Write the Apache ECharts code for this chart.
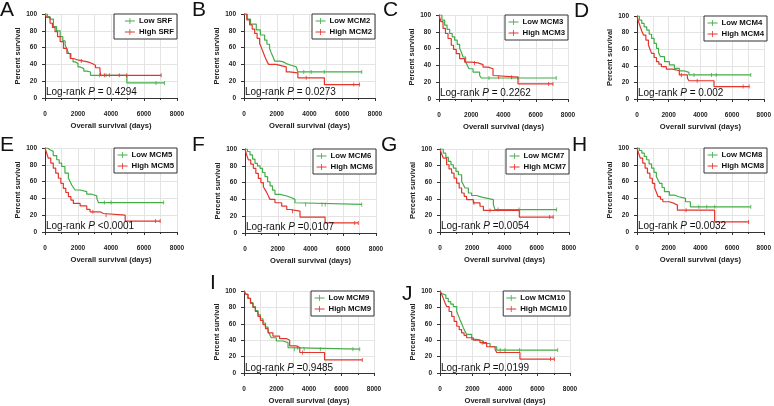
<!DOCTYPE html>
<html>
<head>
<meta charset="utf-8">
<script src="https://cdn.jsdelivr.net/npm/echarts@6/dist/echarts.min.js"></script>
<style>html,body{margin:0;padding:0;background:#fff;}#c{width:774px;height:406px;}</style>
</head>
<body>
<div id="c"></div>
<script>
// ---------- DATA ----------
const panelLetters = ['A','B','C','D','E','F','G','H','I','J'];
const geneNames = ['SRF','MCM2','MCM3','MCM4','MCM5','MCM6','MCM7','MCM8','MCM9','MCM10'];
const pValues = ['= 0.4294','= 0.0273','= 0.2262','= 0.002','<0.0001','=0.0107','=0.0054','=0.0032','=0.9485','=0.0199'];
const xTicks = [0, 2000, 4000, 6000, 8000];
const yTicks = [0, 20, 40, 60, 80, 100];

const lowSRF = [[0,100],[150,97],[300,94],[510,85],[700,80],[920,73],[1080,68],[1220,63],[1330,58],[1430,53],[1570,47],[1700,43],[1840,41],[2000,37],[2140,35],[2350,32],[2550,31],[2760,27],[4960,18],[7245,18]];
const highSRF = [[0,100],[100,96],[306,89],[450,84],[610,79],[760,73],[920,67],[1120,59],[1330,53],[1530,47],[1730,45],[2040,44],[2350,43],[2590,41],[2860,39],[3060,36],[3330,33],[3370,27],[7040,27]];
const lowSRFcens = [[3300,27],[3700,27],[6730,18],[7245,18]];
const highSRFcens = [[2200,44],[3600,27],[3900,27],[4500,27],[4950,27],[7040,27]];

const lowMCM2 = [[0,100],[200,94],[400,88],[750,81],[1000,75],[1260,69],[1400,64],[1560,59],[1660,54],[1770,49],[1870,44],[2170,43],[2400,41],[2580,39],[2880,37],[3190,35],[3290,31],[7190,31]];
const highMCM2 = [[0,100],[170,93],[345,87],[500,82],[650,77],[800,71],[955,65],[1060,60],[1160,55],[1240,51],[1320,47],[1420,43],[1500,40],[1950,38],[2380,37],[2580,31],[2780,30],[3290,24],[4910,16],[7050,16]];
const lowMCM2cens = [[3650,31],[4100,31],[4900,31],[7190,31]];
const highMCM2cens = [[3800,24],[6700,16],[7050,16]];

const lowMCM3 = [[0,100],[180,94],[350,88],[500,83],[660,78],[820,74],[970,70],[1130,65],[1280,60],[1400,55],[1490,50],[1650,44],[1760,40],[1860,36],[2110,32],[2520,28],[2620,25],[7270,25]];
const highMCM3 = [[0,100],[120,92],[250,84],[400,78],[560,72],[760,64],[900,59],[1070,54],[1280,48],[1590,44],[2000,43],[2420,41],[2730,38],[3040,36],[3350,28],[3400,26],[4900,18],[7070,18]];
const lowMCM3cens = [[3100,25],[4900,25],[7270,25]];
const highMCM3cens = [[2200,43],[3700,26],[4500,26],[6800,18],[7070,18]];

const lowMCM4 = [[0,100],[150,95],[300,91],[450,87],[615,83],[770,78],[920,73],[1080,67],[1230,61],[1360,56],[1480,51],[1740,45],[2050,41],[2360,37],[2670,34],[2970,32],[3280,29],[7180,29]];
const highMCM4 = [[0,100],[100,93],[205,87],[300,82],[410,77],[560,71],[720,65],[820,60],[920,55],[1080,50],[1230,45],[1380,42],[1540,39],[1850,36],[2260,34],[2670,29],[3180,25],[3280,22],[4860,15],[7080,15]];
const lowMCM4cens = [[3600,29],[4700,29],[5000,29],[7180,29]];
const highMCM4cens = [[2800,29],[3800,22],[6700,15],[7080,15]];

const lowMCM5 = [[0,100],[150,98],[300,96],[500,91],[710,86],[860,82],[1010,78],[1210,70],[1420,64],[1520,60],[1620,56],[1720,53],[1820,50],[2130,48],[2530,45],[2830,43],[3140,40],[3240,35],[7190,35]];
const highMCM5 = [[0,100],[100,94],[200,88],[350,82],[500,76],[650,70],[810,64],[960,58],[1110,52],[1260,47],[1420,42],[1570,38],[1720,34],[2130,31],[2530,27],[2730,24],[3340,22],[3540,20],[4860,13],[6980,13]];
const lowMCM5cens = [[3600,35],[4000,35],[7190,35]];
const highMCM5cens = [[2900,24],[3700,20],[6700,13],[6980,13]];

const lowMCM6 = [[0,100],[150,97],[305,93],[460,88],[610,83],[760,80],[920,77],[1070,72],[1220,67],[1380,61],[1530,56],[1680,51],[1830,46],[2140,44],[2550,42],[2850,40],[3050,36],[3160,34],[7130,34]];
const highMCM6 = [[0,100],[100,93],[205,87],[350,82],[510,77],[660,71],[815,65],[970,60],[1120,55],[1240,51],[1360,47],[1450,43],[1530,40],[1830,36],[2240,32],[2550,28],[2750,26],[3360,19],[4890,12],[6920,12]];
const lowMCM6cens = [[3700,34],[4700,34],[4900,34],[7130,34]];
const highMCM6cens = [[2900,26],[6700,12],[6920,12]];

const lowMCM7 = [[0,100],[205,95],[360,90],[520,85],[680,81],[830,77],[990,73],[1140,69],[1340,61],[1450,57],[1550,53],[1760,47],[1960,44],[2270,42],[2580,40],[3100,39],[3310,33],[3410,27],[7230,27]];
const highMCM7 = [[0,100],[100,94],[205,89],[410,81],[560,76],[720,71],[870,65],[1030,59],[1190,53],[1340,47],[1500,43],[1650,39],[2070,35],[2480,31],[2690,26],[4920,18],[7020,18]];
const lowMCM7cens = [[3600,27],[4900,27],[7230,27]];
const highMCM7cens = [[2100,35],[3100,26],[6800,18],[7020,18]];

const lowMCM8 = [[0,100],[150,97],[305,94],[460,90],[610,86],[760,81],[920,76],[1070,71],[1220,66],[1330,62],[1430,58],[1580,53],[1730,48],[2040,44],[2350,42],[2650,40],[3060,36],[3370,30],[7180,30]];
const highMCM8 = [[0,100],[100,94],[205,88],[360,82],[510,76],[660,70],[815,64],[970,58],[1120,52],[1230,47],[1330,42],[1480,39],[1630,36],[2040,34],[2350,32],[2550,26],[4900,12],[7040,12]];
const lowMCM8cens = [[3900,30],[4400,30],[4900,30],[7180,30]];
const highMCM8cens = [[3100,26],[7040,12]];

const lowMCM9 = [[0,100],[120,96],[245,91],[400,86],[550,81],[700,76],[860,71],[1010,66],[1170,61],[1320,56],[1480,51],[1580,47],[1680,43],[1990,39],[2400,37],[2710,31],[2810,29],[7120,29]];
const highMCM9 = [[0,100],[120,96],[245,91],[400,85],[550,80],[700,75],[860,69],[1010,64],[1170,59],[1320,54],[1480,49],[1780,45],[2190,42],[2610,40],[2810,33],[3220,31],[3430,25],[4960,16],[7280,16]];
const lowMCM9cens = [[3100,29],[3700,29],[4700,29],[6700,29],[7120,29]];
const highMCM9cens = [[3300,31],[3600,25],[7280,16]];

const lowMCM10 = [[0,100],[100,97],[205,95],[360,91],[510,87],[660,84],[820,81],[1030,75],[1130,70],[1230,65],[1340,60],[1440,55],[1540,51],[1640,47],[1950,41],[2260,39],[2670,36],[3080,32],[3490,28],[7240,28]];
const highMCM10 = [[0,100],[100,96],[205,91],[300,86],[410,81],[560,75],[720,69],[870,63],[1030,57],[1180,53],[1330,49],[1480,46],[1640,43],[2050,40],[2460,37],[2870,32],[3390,29],[3490,25],[4920,17],[7040,17]];
const lowMCM10cens = [[3700,28],[4000,28],[4900,28],[7240,28]];
const highMCM10cens = [[2600,37],[6800,17],[7040,17]];

const lowCurves = [lowSRF, lowMCM2, lowMCM3, lowMCM4, lowMCM5, lowMCM6, lowMCM7, lowMCM8, lowMCM9, lowMCM10];
const highCurves = [highSRF, highMCM2, highMCM3, highMCM4, highMCM5, highMCM6, highMCM7, highMCM8, highMCM9, highMCM10];
const lowCens = [lowSRFcens, lowMCM2cens, lowMCM3cens, lowMCM4cens, lowMCM5cens, lowMCM6cens, lowMCM7cens, lowMCM8cens, lowMCM9cens, lowMCM10cens];
const highCens = [highSRFcens, highMCM2cens, highMCM3cens, highMCM4cens, highMCM5cens, highMCM6cens, highMCM7cens, highMCM8cens, highMCM9cens, highMCM10cens];

// ---------- LAYOUT ----------
const layout = [
  {l:45, t:14, w:132, h:84, lx:0, ly:0},
  {l:244, t:14, w:131, h:84, lx:192, ly:0},
  {l:439, t:15, w:129, h:84, lx:383, ly:0},
  {l:637, t:16, w:130, h:83, lx:574, ly:1},
  {l:45, t:148, w:132, h:84, lx:0, ly:135},
  {l:245, t:149, w:131, h:84, lx:192, ly:135},
  {l:440, t:149, w:129, h:83, lx:381, ly:135},
  {l:637, t:148, w:130, h:84, lx:572, ly:135},
  {l:244, t:291, w:130, h:83, lx:210, ly:273},
  {l:440, t:291, w:130, h:83, lx:402, ly:284}
];
const FONT = 'Liberation Sans, Arial, sans-serif';
const GREEN = '#43ad48';
const RED = '#e3352c';
const legendBoxW = 63;

const ctx = document.createElement('canvas').getContext('2d');
ctx.font = 'bold 7.8px ' + FONT;

const grids = [], xAxes = [], yAxes = [], series = [], legends = [], graphics = [];
layout.forEach((p, i) => {
  grids.push({left: p.l, top: p.t, width: p.w, height: p.h});
  xAxes.push({
    type: 'value', gridIndex: i, min: xTicks[0], max: xTicks[xTicks.length-1], interval: 2000,
    offset: 8,
    name: 'Overall survival (days)', nameLocation: 'middle', nameGap: 16,
    nameTextStyle: {fontFamily: FONT, fontSize: 7.6, fontWeight: 'bold', color: '#222'},
    axisLine: {show: true, lineStyle: {color: '#333', width: 1}},
    axisTick: {show: true, length: 3, lineStyle: {color: '#333'}},
    minorTick: {show: true, splitNumber: 2, length: 2, lineStyle: {color: '#333'}},
    axisLabel: {fontFamily: FONT, fontSize: 6.5, fontWeight: 'bold', color: '#222', margin: 5,
      formatter: v => String(v)},
    splitLine: {show: true, lineStyle: {color: '#e4e4e4', width: 1}},
    minorSplitLine: {show: true, lineStyle: {color: '#e4e4e4', width: 1}}
  });
  yAxes.push({
    type: 'value', gridIndex: i, min: yTicks[0], max: yTicks[yTicks.length-1], interval: 20,
    offset: 3,
    name: 'Percent survival', nameLocation: 'middle', nameGap: 21, nameRotate: 90,
    nameTextStyle: {fontFamily: FONT, fontSize: 7.4, fontWeight: 'bold', color: '#222'},
    axisLine: {show: true, lineStyle: {color: '#333', width: 1}},
    axisTick: {show: true, length: 3, lineStyle: {color: '#333'}},
    axisLabel: {fontFamily: FONT, fontSize: 6.5, fontWeight: 'bold', color: '#222', margin: 5},
    splitLine: {show: true, lineStyle: {color: '#e4e4e4', width: 1}}
  });
  const lowName = 'Low ' + geneNames[i], highName = 'High ' + geneNames[i];
  series.push({
    name: lowName, type: 'line', step: 'end', xAxisIndex: i, yAxisIndex: i,
    data: lowCurves[i], showSymbol: false, color: GREEN,
    lineStyle: {width: 1.2, color: GREEN}, z: 3
  });
  series.push({
    name: highName, type: 'line', step: 'end', xAxisIndex: i, yAxisIndex: i,
    data: highCurves[i], showSymbol: false, color: RED,
    lineStyle: {width: 1.2, color: RED}, z: 4
  });
  series.push({
    name: 'cL' + i, type: 'scatter', xAxisIndex: i, yAxisIndex: i, data: lowCens[i],
    symbol: 'rect', symbolSize: [1, 4], itemStyle: {color: GREEN}, z: 3
  });
  series.push({
    name: 'cH' + i, type: 'scatter', xAxisIndex: i, yAxisIndex: i, data: highCens[i],
    symbol: 'rect', symbolSize: [1, 4], itemStyle: {color: RED}, z: 4
  });
  const tw = Math.max(ctx.measureText(lowName).width, ctx.measureText(highName).width);
  const padL = Math.max(3, legendBoxW - 3 - tw - 10 - 4);
  legends.push({
    data: [lowName, highName], orient: 'vertical',
    right: 774 - (p.l + p.w), top: p.t,
    backgroundColor: '#fff', borderColor: '#333', borderWidth: 1,
    padding: [3, 3, 3, padL], itemGap: 3, itemWidth: 10, itemHeight: 6,
    icon: 'path://M0,2.5H10V3.5H0Z M4.6,0H5.4V6H4.6Z',
    selectedMode: false,
    textStyle: {fontFamily: FONT, fontSize: 7.8, fontWeight: 'bold', color: '#111', padding: [0, 0, 0, -1]}
  });
  graphics.push({
    type: 'text', left: p.lx, top: p.ly, z: 100,
    style: {text: panelLetters[i], font: '21px ' + FONT, fill: '#111'}
  });
  graphics.push({
    type: 'text', left: p.l + 1, top: p.t + p.h - 11, z: 100,
    style: {
      text: '{n|Log-rank }{i|P}{n| ' + pValues[i] + '}',
      rich: {
        n: {fontFamily: FONT, fontSize: 10, fill: '#111'},
        i: {fontFamily: FONT, fontSize: 10, fontStyle: 'italic', fill: '#111'}
      }
    }
  });
});

const chart = echarts.init(document.getElementById('c'), null, {renderer: 'canvas'});
chart.setOption({
  animation: false,
  backgroundColor: '#fff',
  grid: grids, xAxis: xAxes, yAxis: yAxes, series: series, legend: legends, graphic: graphics
});
</script>
</body>
</html>
